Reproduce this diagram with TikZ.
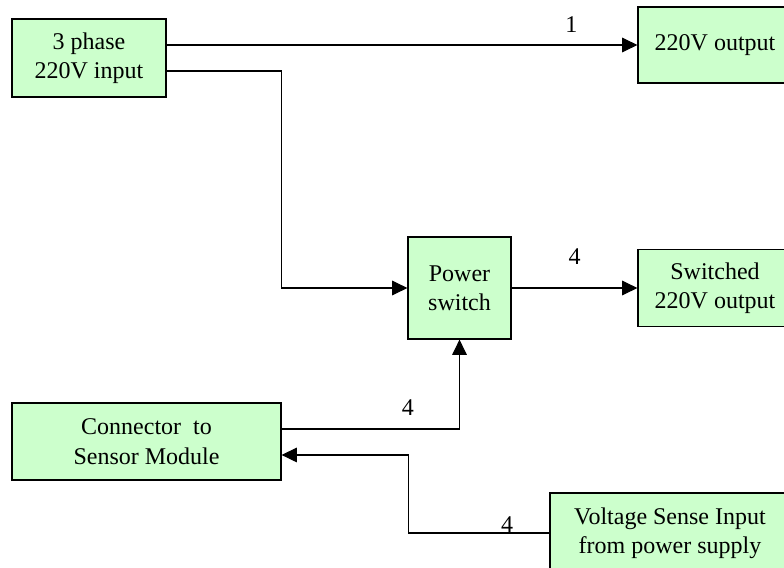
\documentclass[tikz,border=0pt]{standalone}
\usepackage{fontspec}
\setmainfont{Liberation Serif}
\usepackage{tikz}
\usetikzlibrary{arrows.meta, positioning, calc}
\definecolor{boxgreen}{RGB}{204, 255, 204}

\begin{document}
\begin{tikzpicture}[
        x=0.75pt, y=-0.75pt,
        block/.style={rectangle, draw=black, fill=boxgreen, line width=0.9pt, align=center, inner sep=2pt, font=\fontsize{18}{22}\selectfont},
        lbl/.style={inner sep=0pt, font=\fontsize{18}{22}\selectfont},
        arrow/.style={-{Triangle[length=11.5pt, width=11pt]}, line width=0.8pt, draw=black}
    ]
        \clip (0,0) rectangle (784,567);

        % Blocks
        \node[block, minimum width=115.5pt, minimum height=58.5pt] (input) at (89,58) {3 phase\\220V input};
        \node[block, minimum width=115.5pt, minimum height=57pt] (out220) at (715,45) {220V output};
        \node[block, minimum width=77.25pt, minimum height=76.5pt] (switch) at (459.5,288) {Power\\switch};
        \node[block, minimum width=115.5pt, minimum height=57.75pt] (switched) at (715,288) {Switched\\220V output};
        \node[block, minimum width=201.75pt, minimum height=57.75pt] (connector) at (146.5,441.5) {Connector~~to\\Sensor Module};
        \node[block, minimum width=180pt, minimum height=60pt] (voltage) at (670,533) {Voltage Sense Input\\from power supply};

        % Connections
        \draw[arrow] (input.east |- out220.west) -- node[lbl, pos=0.86, above=9pt] {1} (out220.west);
        \draw[arrow] ([yshift=-9.75pt]input.east) -- ++(115,0) |- (switch.west);
        \draw[arrow] (switch) -- node[lbl, midway, above=17pt] {4} (switched);
        \draw[arrow] ([yshift=9.4pt]connector.east) -| node[lbl, pos=0.355, above=9.6pt] {4} (switch.south);
        \draw[arrow] (voltage.west) -- node[lbl, pos=0.3, above=0pt] {4} ++(-141,0) |- ([yshift=-10.1pt]connector.east);

\end{tikzpicture}
\end{document}
